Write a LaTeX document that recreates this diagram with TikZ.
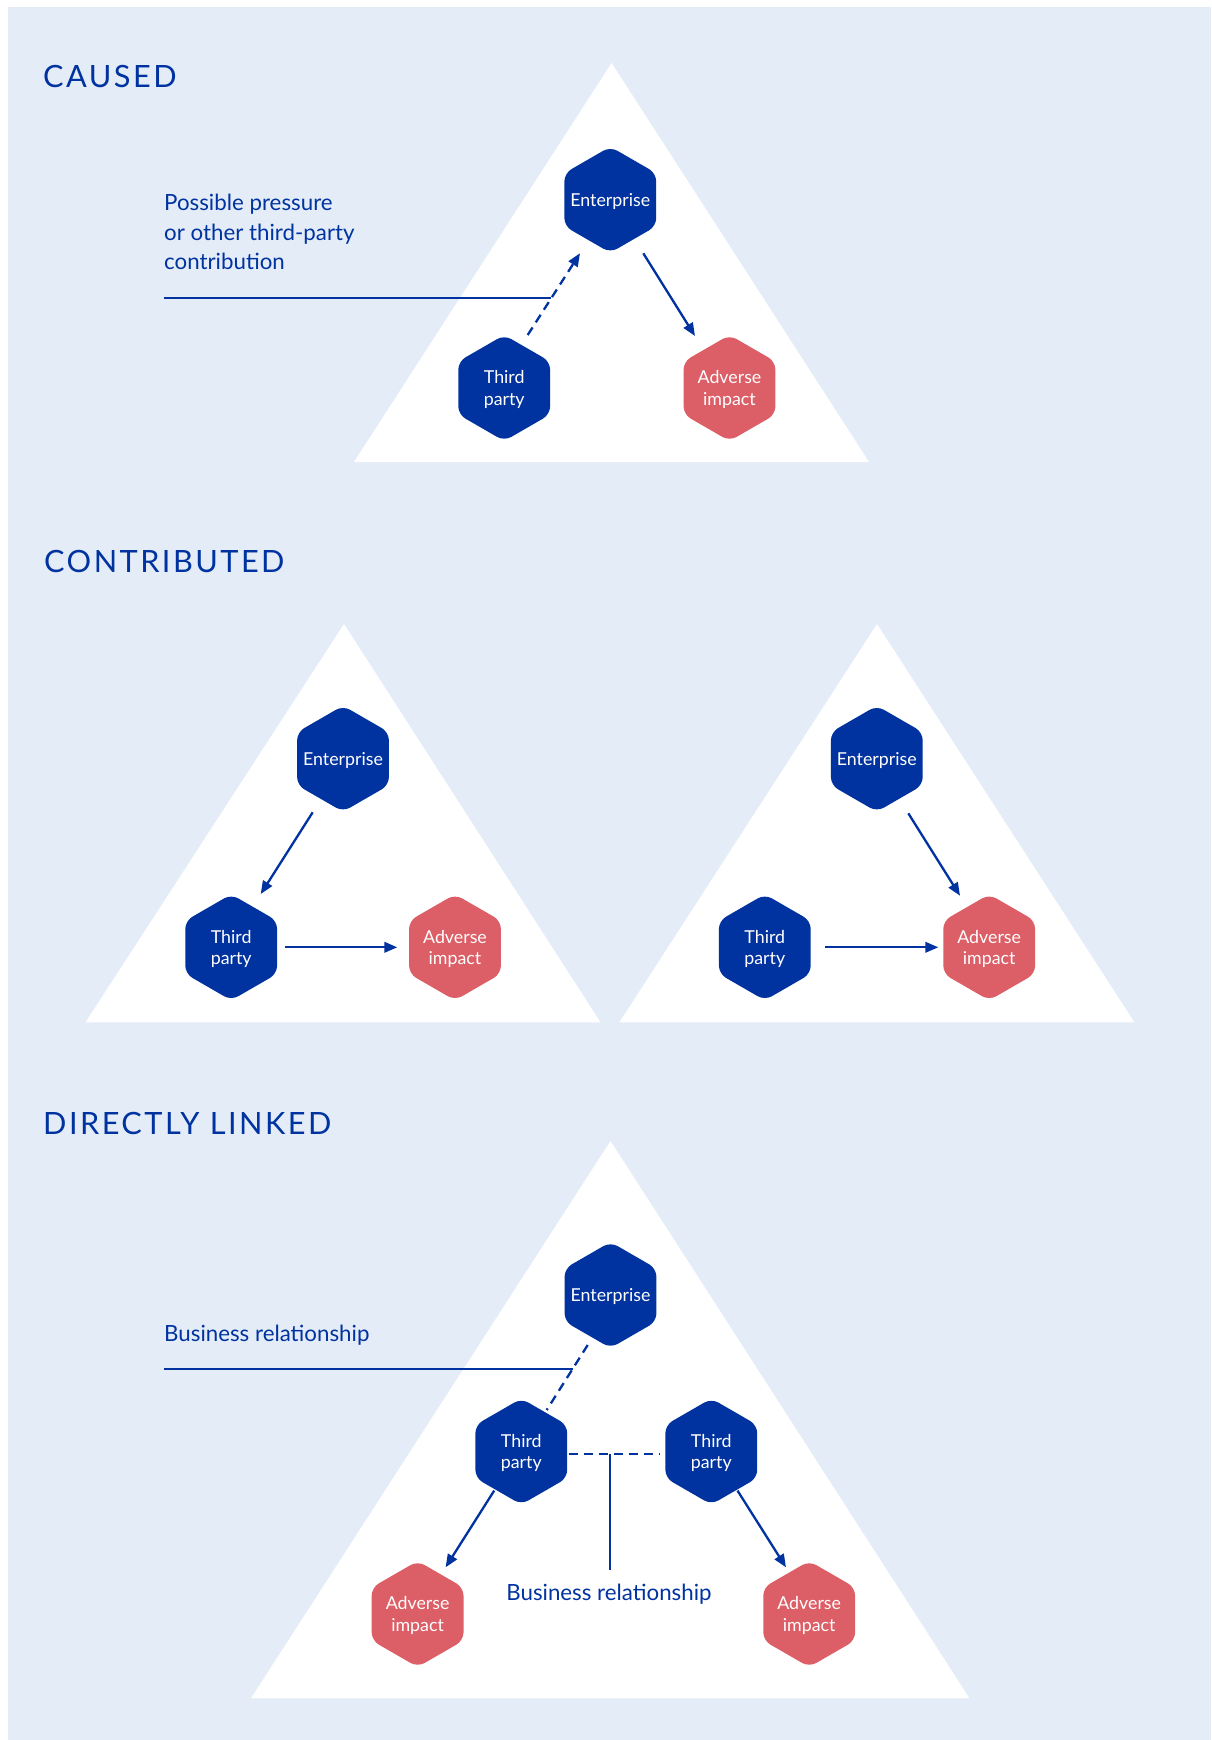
\documentclass[tikz,border=0pt]{standalone}
\usepackage{fontspec}
\setmainfont{Lato}
\newfontfamily\titlefont[LetterSpace=8]{Lato}
\usetikzlibrary{arrows.meta,shapes.geometric,calc}
\definecolor{bgblue}{RGB}{228,236,247}
\definecolor{dblue}{RGB}{0,51,160}
\definecolor{rred}{RGB}{220,94,102}
\tikzset{
  hexbase/.style={regular polygon, regular polygon sides=6, shape border rotate=30,
    minimum size=106pt, inner sep=-12pt, rounded corners=8pt, text=white, align=center,
    font=\fontsize{17.8}{21.7}\selectfont, text depth=-9pt},
  hexblue/.style={hexbase, fill=dblue},
  hexred/.style={hexbase, fill=rred},
  tip/.tip={Triangle[length=13pt,width=10.5pt]},
  arr/.style={draw=dblue, line width=2.3pt, -tip},
  dsh/.style={draw=dblue, line width=2.3pt, dash pattern=on 9pt off 6pt},
  labline/.style={draw=dblue, line width=1.3pt},
  labtext/.style={text=dblue, font=\fontsize{22.3}{29.5}\selectfont, anchor=base west, inner sep=0pt},
  titletext/.style={text=dblue, font=\titlefont\fontsize{30.7}{36}\selectfont, anchor=base west, inner sep=0pt},
  tri/.style={fill=white}
}
\begin{document}
\begin{tikzpicture}[x=1pt,y=-1pt]
\useasboundingbox (0,0) rectangle (1211,1740);
\fill[bgblue] (8,7) rectangle (1211,1740);

% ---------- CAUSED ----------
\node[titletext] (t1) at (43,87) {CAUSED};
\fill[tri] (611.6,63) -- (354,462) -- (869,462) -- cycle;
\node[labtext] (lab1a) at (164,210.6) {Possible pressure};
\node[labtext] (lab1b) at (164,240.1) {or other third-party};
\node[labtext] (lab1c) at (164,269.6) {contribution};
\coordinate (l1s) at (164,298);
\coordinate (l1e) at (551,298);
\draw[labline] (l1s) -- (l1e);
\node[hexblue] (E1) at (610.3,199.7) {Enterprise};
\node[hexblue] (T1) at (504.2,388) {Third\\party};
\node[hexred] (A1) at (729.5,388) {Adverse\\impact};
\draw[dsh,-tip] ([shift={(23.5,-53)}]T1.center) -- ([shift={(-30.3,53.6)}]E1.center);
\draw[arr] ([shift={(33,53.6)}]E1.center) -- ([shift={(-34.5,-52)}]A1.center);

% ---------- CONTRIBUTED ----------
\node[titletext] (t2) at (44,572) {CONTRIBUTED};
\fill[tri] (344,624) -- (85.5,1022.3) -- (600.5,1022.3) -- cycle;
\fill[tri] (877,624) -- (619.4,1022.3) -- (1134.4,1022.3) -- cycle;
\node[hexblue] (E2) at (343,758.7) {Enterprise};
\node[hexblue] (T2) at (231.2,947.3) {Third\\party};
\node[hexred] (A2) at (455,947.3) {Adverse\\impact};
\draw[arr] ([shift={(-30.3,53.6)}]E2.center) -- ([shift={(29.5,-53.3)}]T2.center);
\draw[arr] ([shift={(53.8,0)}]T2.center) -- ([shift={(-57.7,0)}]A2.center);
\node[hexblue] (E2R) at (876.8,758.7) {Enterprise};
\node[hexblue] (T2R) at (764.8,947.3) {Third\\party};
\node[hexred] (A2R) at (989.2,947.3) {Adverse\\impact};
\draw[arr] ([shift={(31.5,54.6)}]E2R.center) -- ([shift={(-29.2,-51.6)}]A2R.center);
\draw[arr] ([shift={(60.2,0)}]T2R.center) -- ([shift={(-50.9,0)}]A2R.center);

% ---------- DIRECTLY LINKED ----------
\node[titletext] (t3) at (43,1134) {DIRECTLY LINKED};
\fill[tri] (610.5,1141) -- (251,1698.3) -- (969.5,1698.3) -- cycle;
\node[labtext] (lab3) at (164,1341) {Business relationship};
\coordinate (l3s) at (164,1369);
\coordinate (l3e) at (572.5,1369);
\draw[labline] (l3s) -- (l3e);
\node[hexblue] (E3) at (610.5,1295) {Enterprise};
\node[hexblue] (T3L) at (521.3,1451.5) {Third\\party};
\node[hexblue] (T3R) at (711.3,1451.5) {Third\\party};
\node[hexred] (A3L) at (417.6,1614) {Adverse\\impact};
\node[hexred] (A3R) at (809.2,1614) {Adverse\\impact};
\draw[dsh] ([shift={(-22.8,50)}]E3.center) -- ([shift={(25.4,-41.5)}]T3L.center);
\draw[dsh] ([shift={(47.4,2.8)}]T3L.center) -- ([shift={(-52.3,2.8)}]T3R.center);
\coordinate (br) at (610,1454.3);
\coordinate (brend) at (610,1570);
\draw[labline] (br) -- (brend);
\node[labtext, anchor=base] (lab4) at (609,1600) {Business relationship};
\draw[arr] ([shift={(-27.1,39.1)}]T3L.center) -- ([shift={(28,-46.7)}]A3L.center);
\draw[arr] ([shift={(26.2,39.1)}]T3R.center) -- ([shift={(-23.2,-46.7)}]A3R.center);
\end{tikzpicture}
\end{document}
